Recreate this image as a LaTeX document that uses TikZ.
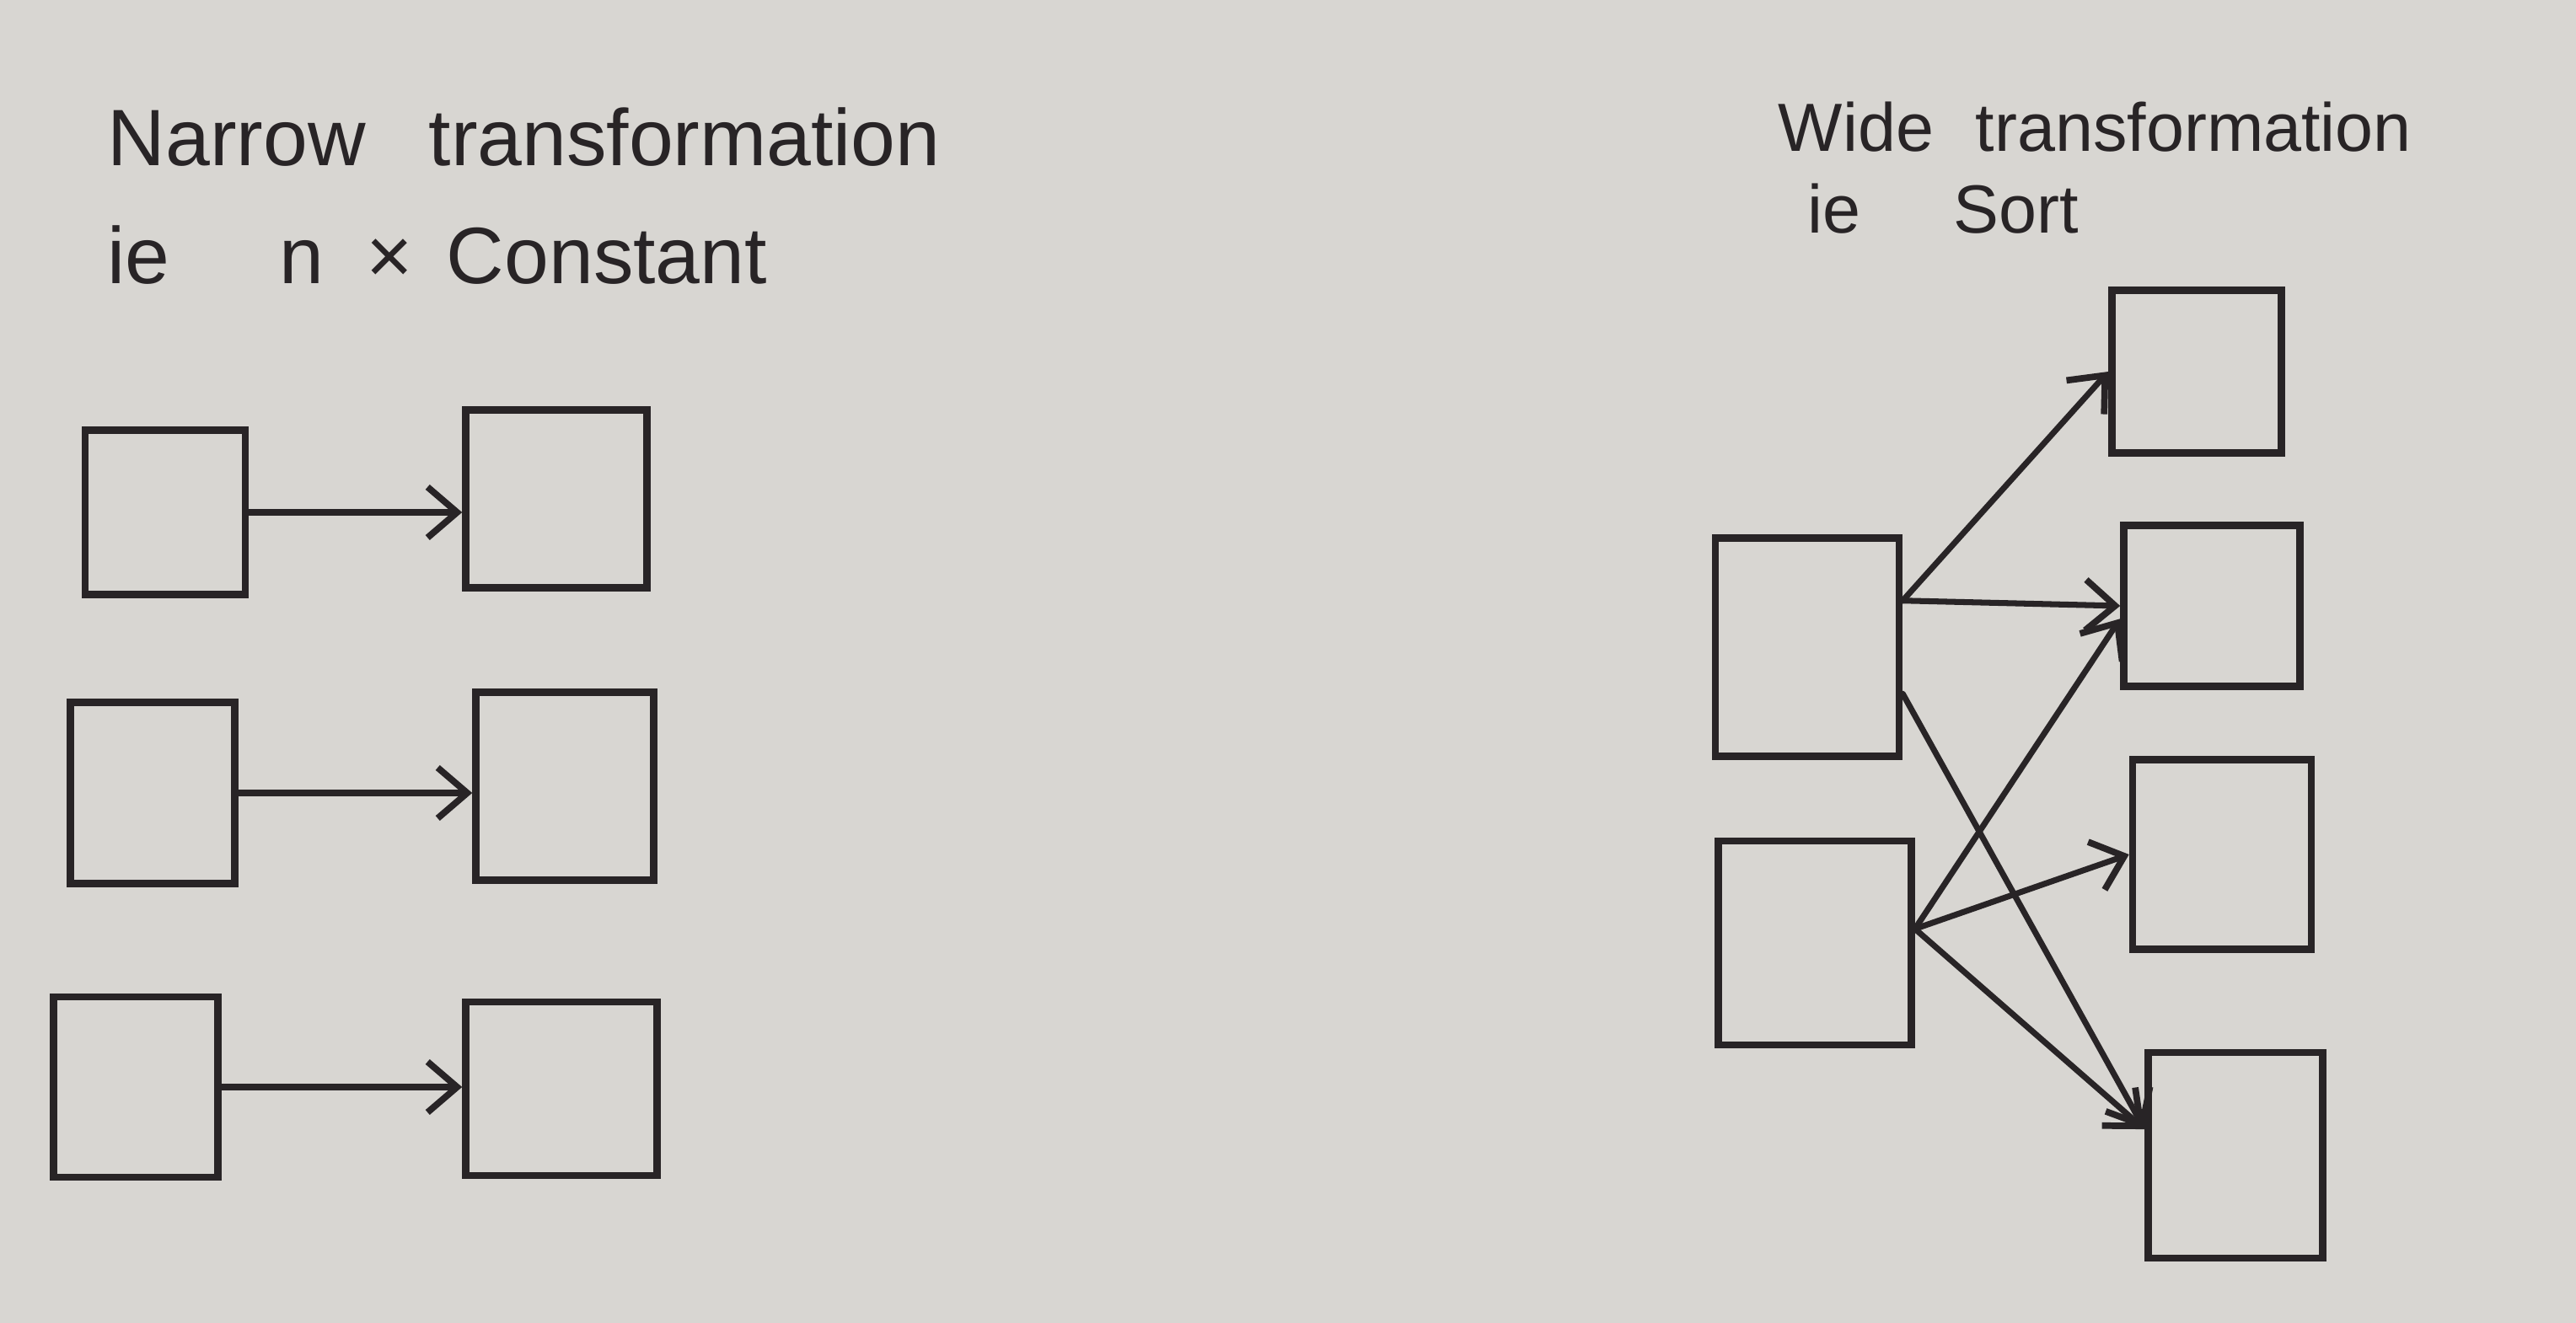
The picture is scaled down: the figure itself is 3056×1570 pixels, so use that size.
\documentclass[tikz,border=0pt]{standalone}
\usepackage{fontspec}
\setsansfont{Liberation Sans}
\definecolor{ink}{RGB}{40,36,38}
\definecolor{paper}{RGB}{216,214,210}
\tikzset{every picture/.style={/utils/exec={\sffamily}}}
\usetikzlibrary{positioning}
\usetikzlibrary{arrows.meta}
\tikzset{node distance=2cm, % not much used, boxes sit at coordinates
  every node/.style={align=left},
         blk/.style={ % one partition
           draw=ink, line width=2.4pt,
           minimum width=2cm, minimum height=2cm, inner sep=0pt},
         heading/.style={anchor=base west, text=ink, inner sep=0pt,
           font=\fontsize{27}{32}\selectfont},
         every edge/.style={  % dependency between partitions
           draw=ink, line width=2pt, line cap=round,
           -{Straight Barb[length=3.5mm,width=6mm,line width=2.2pt]}}}

\begin{document}
\begin{tikzpicture}[x=0.01cm, y=-0.01cm]
  \fill [paper] (0,0) rectangle (3056,1570);
  \useasboundingbox (0,0) rectangle (3056,1570);

  % narrow transformation:

  \node [heading] (ntitle) at (127,197) {Narrow\hspace{0.75cm}transformation};
  \node [heading] (nsub) at (127,337) {ie\hspace{1.3cm}n\hspace{0.5cm}×\hspace{0.4cm}Constant};

  \node [blk, minimum width=1.9cm, minimum height=1.95cm] (in1) at (196,608) {};
  \node [blk, minimum width=1.95cm, minimum height=2.15cm] (in2) at (181,941) {};
  \node [blk, minimum width=1.95cm, minimum height=2.14cm] (in3) at (161,1290) {};

  \node [blk, minimum width=2.15cm, minimum height=2.11cm] (out1) at (660,592) {};
  \node [blk, minimum width=2.11cm, minimum height=2.23cm] (out2) at (670,933) {};
  \node [blk, minimum width=2.27cm, minimum height=2.06cm] (out3) at (666,1292) {};

  \draw (in1.east) edge (in1.east -| out1.west);
  \draw (in2.east) edge (in2.east -| out2.west);
  \draw (in3.east) edge (in3.east -| out3.west);

  % wide transformation:

  \node [heading, font=\fontsize{23}{28}\selectfont] (wtitle) at (2109,180) {Wide\hspace{0.5cm}transformation};
  \node [heading, font=\fontsize{23}{28}\selectfont] (wsub) at (2144,277) {ie\hspace{1.1cm}Sort};

  \node [blk, minimum width=2.18cm, minimum height=2.59cm] (pa) at (2144,768) {};
  \node [blk, minimum width=2.29cm, minimum height=2.42cm] (pb) at (2153,1119) {};

  \node [blk, minimum width=2.01cm, minimum height=1.93cm] (q1) at (2606,441) {};
  \node [blk, minimum width=2.09cm, minimum height=1.91cm] (q2) at (2624,719) {};
  \node [blk, minimum width=2.12cm, minimum height=2.25cm] (q3) at (2636,1014) {};
  \node [blk, minimum width=2.07cm, minimum height=2.44cm] (q4) at (2652,1371) {};

  \draw (pa.26) edge (q1.west);
  \draw (pa.26) edge (q2.west);
  \draw (pa.-26) edge (q4.164);

  \draw (pb.8) edge (q2.-172);
  \draw (pb.8) edge (q3.west);
  \draw (pb.8) edge (q4.164);

\end{tikzpicture}
\end{document}
